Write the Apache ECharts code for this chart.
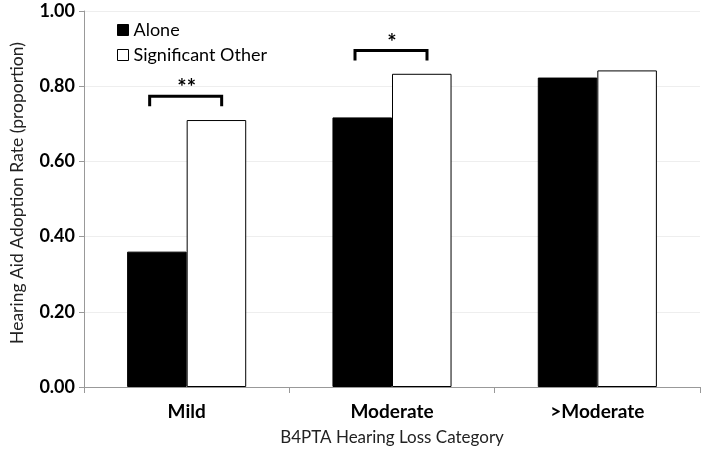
<!DOCTYPE html>
<html><head><meta charset="utf-8">
<script src="https://cdn.jsdelivr.net/npm/echarts@6/dist/echarts.min.js"></script>
<style>html,body{margin:0;padding:0;background:#fff}#c{width:705px;height:451px}</style>
</head><body><div id="c"></div>
<script>
const categories = ['Mild', 'Moderate', '>Moderate'];
const aloneValues = [0.36, 0.717, 0.823];
const significantOtherValues = [0.71, 0.833, 0.842];
const yTicks = [0, 0.2, 0.4, 0.6, 0.8, 1.0];
// significance brackets: [categoryIndex, bracket y value, marker]
const brackets = [[0, 0.773, '**'], [1, 0.895, '*']];

const font = 'Lato, "Open Sans", sans-serif';
const chart = echarts.init(document.getElementById('c'));
chart.setOption({
  animation: false,
  textStyle: { fontFamily: font },
  grid: { left: 82, right: 5, top: 11, bottom: 64, containLabel: false },
  legend: {
    left: 112, top: 16, orient: 'vertical', itemGap: 7,
    itemWidth: 11, itemHeight: 11,
    textStyle: { fontSize: 18, color: '#000', fontFamily: font },
    data: [
      { name: 'Alone', icon: 'rect', itemStyle: { color: '#000', borderColor: '#000', borderWidth: 1 } },
      { name: 'Significant Other', icon: 'rect', itemStyle: { color: '#fff', borderColor: '#000', borderWidth: 1 } }
    ]
  },
  xAxis: {
    type: 'category', data: categories,
    name: 'B4PTA Hearing Loss Category', nameLocation: 'middle', nameGap: 42,
    nameTextStyle: { fontSize: 17, color: '#222', fontFamily: font },
    axisLine: { lineStyle: { color: '#999', width: 1 } },
    axisTick: { show: true, length: 6, lineStyle: { color: '#999' } },
    axisLabel: { fontSize: 19, fontWeight: 'bold', color: '#000', margin: 15, fontFamily: font }
  },
  yAxis: {
    type: 'value', min: 0, max: 1, interval: 0.2,
    name: 'Hearing Aid Adoption Rate (proportion)', nameLocation: 'middle', nameGap: 58,
    nameTextStyle: { fontSize: 17.5, color: '#222', fontFamily: font, padding: [0, 0, 0, 12] },
    axisLine: { show: true, lineStyle: { color: '#999', width: 1 } },
    axisTick: { show: true, length: 5, lineStyle: { color: '#999' } },
    splitLine: { show: true, lineStyle: { color: '#eeeeee' } },
    axisLabel: {
      fontSize: 18, fontWeight: 'bold', color: '#000', margin: 9, fontFamily: font,
      formatter: v => yTicks.some(t => Math.abs(t - v) < 1e-9) ? v.toFixed(2) : ''
    }
  },
  series: [
    { name: 'Alone', type: 'bar', data: aloneValues, barGap: '0%', barCategoryGap: '42%',
      itemStyle: { color: '#000', borderColor: '#000', borderWidth: 1 } },
    { name: 'Significant Other', type: 'bar', data: significantOtherValues,
      itemStyle: { color: '#fff', borderColor: '#000', borderWidth: 1 } },
    { name: 'brackets', type: 'custom', data: brackets, z: 10, silent: true,
      renderItem: function (params, api) {
        const p = api.coord([api.value(0), api.value(1)]);
        const half = 36, leg = 10;
        const mark = brackets[params.dataIndex][2];
        return { type: 'group', children: [
          { type: 'polyline', shape: { points: [[p[0]-half-1, p[1]+leg], [p[0]-half-1, p[1]], [p[0]+half-1, p[1]], [p[0]+half-1, p[1]+leg]] },
            style: { stroke: '#000', lineWidth: 3, fill: null } },
          { type: 'text', style: { text: mark, x: p[0], y: p[1] - 8, align: 'center', verticalAlign: 'middle',
            fontSize: 22, fontWeight: 'bold', fill: '#000', fontFamily: font } }
        ]};
      }
    }
  ]
});
</script></body></html>
